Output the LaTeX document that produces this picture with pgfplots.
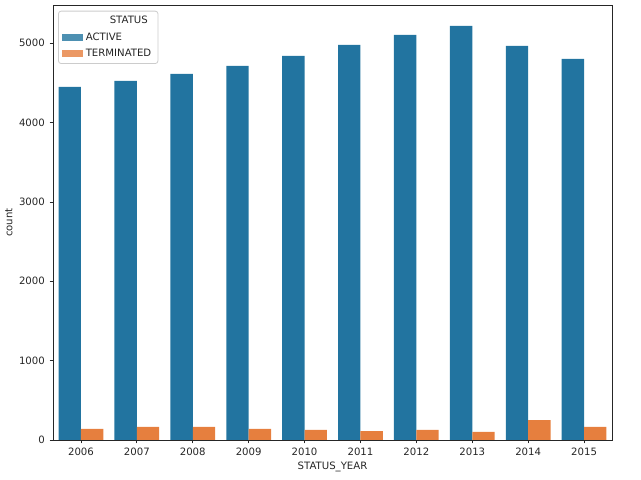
\documentclass[border=0pt]{standalone}
\usepackage{pgfplots}
\pgfplotsset{compat=1.18}
\usepackage{fontspec}
\setmainfont{DejaVu Sans}
\definecolor{cblue}{RGB}{34,116,160}
\definecolor{corange}{RGB}{230,127,62}
\definecolor{spine}{RGB}{38,38,38}
\begin{document}
\begin{tikzpicture}
\begin{axis}[
  scale only axis,
  width=419.25pt, height=326.25pt,
  xmin=-0.5, xmax=9.5, ymin=0, ymax=5482,
  xtick={0,1,2,3,4,5,6,7,8,9},
  xticklabels={2006,2007,2008,2009,2010,2011,2012,2013,2014,2015},
  ytick={0,1000,2000,3000,4000,5000},
  scaled y ticks=false,
  /pgf/number format/assume math mode=true,
  yticklabel style={/pgf/number format/1000 sep={}},
  tick align=outside, tick pos=left,
  major tick length=2.6pt,
  every tick/.style={spine, line width=0.6pt},
  axis line style={spine, line width=0.6pt},
  ticklabel style={font=\fontsize{7.6}{9}\selectfont, text=spine},
  xlabel={STATUS\_YEAR}, ylabel={count},
  label style={font=\fontsize{7.6}{9}\selectfont, text=spine},
  xlabel style={yshift=2pt},
  ylabel style={yshift=-2pt},
  bar width=0.4,
  legend cell align=left,
  legend style={at={(0,1)}, anchor=north west, xshift=3.8pt, yshift=-4.3pt,
    font=\fontsize{7.6}{9}\selectfont, text=spine,
    draw={rgb,255:red,204;green,204;blue,204}, fill=white, fill opacity=0.8, text opacity=1,
    rounded corners=2pt, line width=0.6pt, row sep=1pt,
    inner xsep=3pt, inner ysep=2pt},
]
\addlegendimage{empty legend}
\addlegendentry{\hspace{18pt}STATUS}
\addplot[ybar, fill=cblue, draw=none, bar shift=-0.2, area legend,
  legend image code/.code={\fill[cblue, sharp corners] (0pt,-2.5pt) rectangle (15.5pt,2.5pt);}]
  coordinates {(0,4450) (1,4525) (2,4614) (3,4714) (4,4840) (5,4979) (6,5105) (7,5219) (8,4966) (9,4803)};
\addlegendentry{ACTIVE}
\addplot[ybar, fill=corange, draw=none, bar shift=0.2, area legend,
  legend image code/.code={\fill[corange, sharp corners] (0pt,-2.5pt) rectangle (15.5pt,2.5pt);}]
  coordinates {(0,139) (1,164) (2,164) (3,139) (4,126) (5,113) (6,126) (7,101) (8,252) (9,164)};
\addlegendentry{TERMINATED}
\end{axis}
\pgfresetboundingbox
\path[use as bounding box] ([xshift=-39.75pt,yshift=-30pt]current axis.south west) rectangle ([xshift=21.75pt,yshift=3.75pt]current axis.north east);
\end{tikzpicture}
\end{document}
